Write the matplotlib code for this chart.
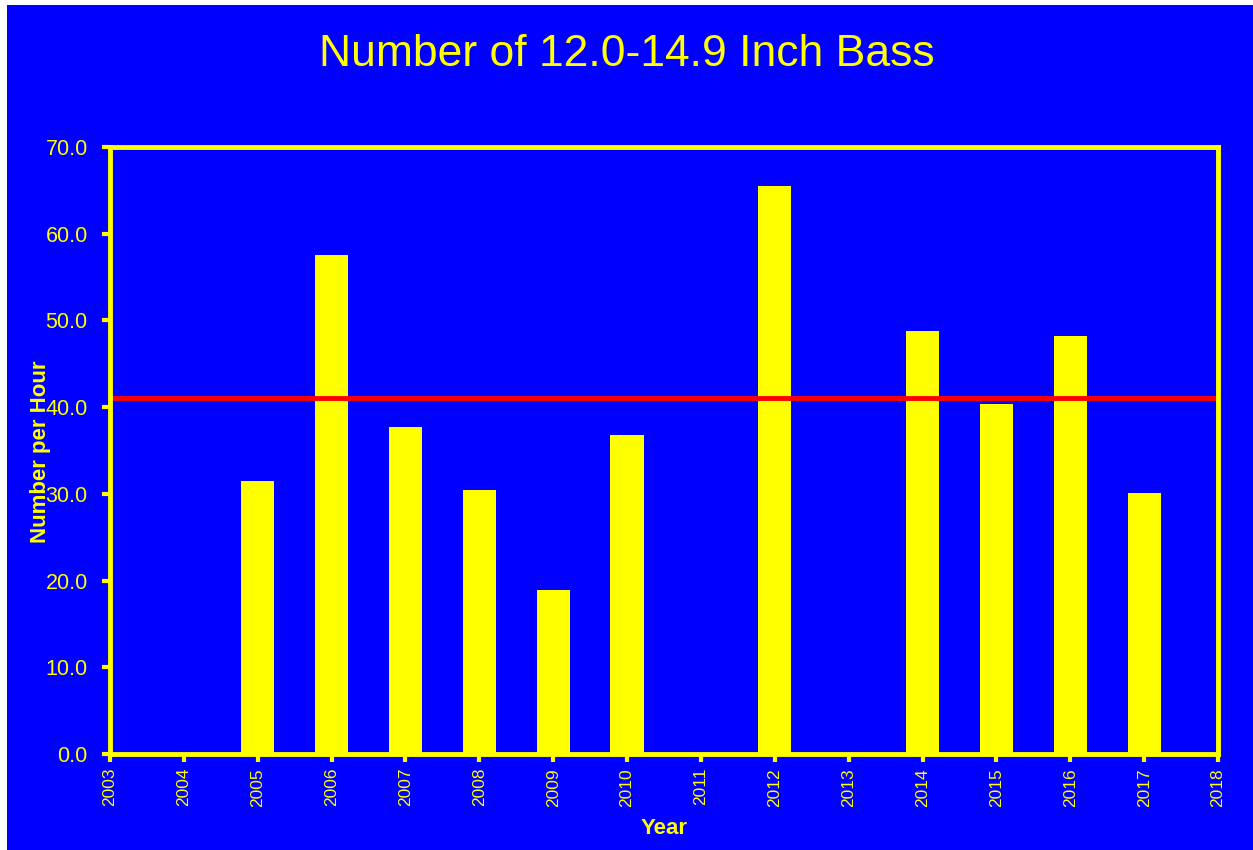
import matplotlib
matplotlib.use("Agg")
import matplotlib.pyplot as plt
from matplotlib.patches import Rectangle

plt.rcParams['font.family'] = ['Liberation Sans', 'DejaVu Sans']

# Data
years = [2005, 2006, 2007, 2008, 2009, 2010, 2012, 2014, 2015, 2016, 2017]
per_hour = [31.5, 57.5, 37.7, 30.5, 18.9, 36.8, 65.5, 48.8, 40.4, 48.2, 30.1]
average = 41.0
year_ticks = list(range(2003, 2019))
y_ticks = [0, 10, 20, 30, 40, 50, 60, 70]

yellow = '#FFFF00'
blue = '#0000FF'

fig = plt.figure(figsize=(12.53, 8.5), dpi=100, facecolor='white')
# blue panel with a thin white margin on left and top
fig.patches.append(Rectangle((7 / 1253, 0), 1 - 7 / 1253, 1 - 5 / 850,
                             transform=fig.transFigure, facecolor=blue,
                             edgecolor='none', zorder=-10))

ax = fig.add_axes([110 / 1253, 1 - 754 / 850, (1218 - 110) / 1253, (754 - 147) / 850])
ax.set_zorder(1)
ax.set_facecolor(blue)

ax.bar(years, per_hour, width=0.45, color=yellow, zorder=2)
ax.axhline(average, color='#FF0000', linewidth=3.5, zorder=3)

ax.set_xlim(2003, 2018)
ax.set_ylim(0, 70)
ax.set_xticks(year_ticks)
ax.set_xticklabels([str(y) for y in year_ticks], rotation=90)
ax.set_yticks(y_ticks)
ax.set_yticklabels([f"{v:.1f}" for v in y_ticks])

for s in ax.spines.values():
    s.set_color(yellow)
    s.set_linewidth(3.5)
    s.set_zorder(4)

ax.tick_params(axis='both', colors=yellow, direction='out', length=6, width=3)
ax.tick_params(axis='y', labelsize=15.5, pad=10)
ax.tick_params(axis='x', labelsize=12.5, pad=4)

ax.set_xlabel('Year', color=yellow, fontsize=16, fontweight='bold', labelpad=8)
ax.set_ylabel('Number per Hour', color=yellow, fontsize=16, fontweight='bold')
ax.yaxis.set_label_coords(41 / 1253, 1 - 452 / 850, transform=fig.transFigure)
ax.yaxis.label.set_va('center')

fig.text(0.5, 1 - 55 / 850, 'Number of 12.0-14.9 Inch Bass', color=yellow,
         fontsize=32, ha='center', va='center')

fig.savefig('out.png', dpi=100, facecolor=fig.get_facecolor())
